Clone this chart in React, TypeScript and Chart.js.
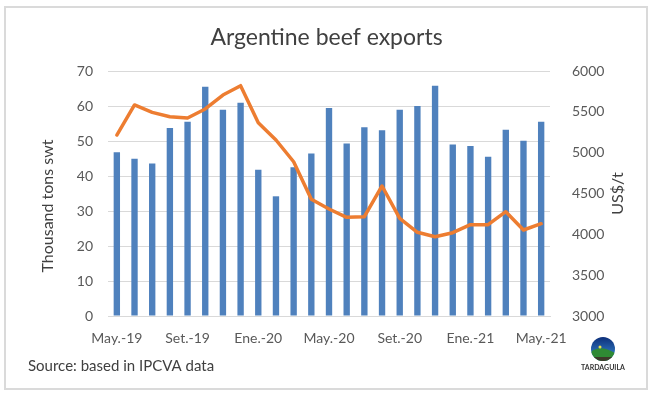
import React, { useEffect, useRef } from "react";
import { Chart, registerables } from "chart.js";

Chart.register(...registerables);

const categories = [
  "May.-19", "Jun.-19", "Jul.-19", "Ago.-19", "Set.-19", "Oct.-19", "Nov.-19", "Dic.-19",
  "Ene.-20", "Feb.-20", "Mar.-20", "Abr.-20", "May.-20", "Jun.-20", "Jul.-20", "Ago.-20",
  "Set.-20", "Oct.-20", "Nov.-20", "Dic.-20", "Ene.-21", "Feb.-21", "Mar.-21", "Abr.-21",
  "May.-21",
];

// Thousand tons swt (left axis)
const exportVolumes = [
  46.8, 44.9, 43.6, 53.7, 55.5, 65.5, 58.9, 60.9, 41.8, 34.2, 42.5, 46.4, 59.4,
  49.3, 53.9, 53.1, 58.9, 60.0, 65.8, 49.0, 48.6, 45.5, 53.2, 50.1, 55.5,
];

// US$/t (right axis)
const exportPrices = [
  5216, 5584, 5494, 5440, 5424, 5535, 5706, 5820, 5367, 5155, 4889, 4429, 4310,
  4208, 4216, 4592, 4196, 4025, 3971, 4020, 4118, 4118, 4277, 4053, 4130,
];

const titleText = "Argentine beef exports";
const leftAxisTitle = "Thousand tons swt";
const rightAxisTitle = "US$/t";
const sourceText = "Source: based in IPCVA data";
const logoText = "TARDAGUILA";

const FONT = "Lato, 'Noto Sans', sans-serif";
const TICK_COLOR = "#595959";
const GRID_COLOR = "#D9D9D9";

const decorPlugin = {
  id: "decor",
  beforeDraw(chart: any) {
    const ctx = chart.ctx;
    ctx.save();
    ctx.fillStyle = "#ffffff";
    ctx.fillRect(0, 0, chart.width, chart.height);
    ctx.restore();
  },
  afterDraw(chart: any) {
    const ctx = chart.ctx;
    const area = chart.chartArea;
    ctx.save();
    // outer frame
    ctx.strokeStyle = "#DADADA";
    ctx.lineWidth = 2;
    ctx.strokeRect(5, 7, 642, 382);

    // left axis title
    ctx.fillStyle = "#404040";
    ctx.font = `16px ${FONT}`;
    ctx.textAlign = "center";
    ctx.textBaseline = "middle";
    ctx.save();
    ctx.translate(48, 206);
    ctx.rotate(-Math.PI / 2);
    ctx.fillText(leftAxisTitle, 0, 0);
    ctx.restore();

    // right axis title
    ctx.save();
    ctx.translate(618, (area.top + area.bottom) / 2);
    ctx.rotate(-Math.PI / 2);
    ctx.fillText(rightAxisTitle, 0, 0);
    ctx.restore();

    // source
    ctx.textAlign = "left";
    ctx.font = `15px ${FONT}`;
    ctx.fillText(sourceText, 28, 366);

    // logo
    const cx = 603, cy = 349, r = 12;
    ctx.save();
    ctx.beginPath();
    ctx.arc(cx, cy, r, 0, Math.PI * 2);
    ctx.clip();
    const g = ctx.createLinearGradient(0, cy - r, 0, cy + r);
    g.addColorStop(0, "#0d2f7a");
    g.addColorStop(1, "#3a8fd6");
    ctx.fillStyle = g;
    ctx.fillRect(cx - r, cy - r, 2 * r, 2 * r);
    ctx.fillStyle = "#2f8a34";
    ctx.beginPath();
    ctx.moveTo(cx - r, cy + 3);
    ctx.quadraticCurveTo(cx - 3, cy - 5, cx + r, cy + 4);
    ctx.lineTo(cx + r, cy + r);
    ctx.lineTo(cx - r, cy + r);
    ctx.closePath();
    ctx.fill();
    ctx.fillStyle = "#3d3a2a";
    ctx.fillRect(cx - r, cy + 8, 2 * r, 5);
    ctx.fillStyle = "#e8e24a";
    ctx.beginPath();
    ctx.arc(cx - 3, cy - 2, 1.5, 0, Math.PI * 2);
    ctx.fill();
    ctx.restore();
    ctx.fillStyle = "#333333";
    ctx.font = `bold 7px ${FONT}`;
    ctx.textAlign = "center";
    ctx.fillText(logoText, cx, 368);

    ctx.restore();
  },
};

export default function App() {
  const canvasRef = useRef<HTMLCanvasElement | null>(null);

  useEffect(() => {
    const canvas = canvasRef.current;
    if (!canvas) return;
    const chart = new Chart(canvas, {
      type: "bar",
      data: {
        labels: categories,
        datasets: [
          {
            type: "line",
            label: "US$/t",
            data: exportPrices,
            yAxisID: "y1",
            borderColor: "#ED7D31",
            backgroundColor: "#ED7D31",
            borderWidth: 3.5,
            pointRadius: 0,
            tension: 0,
            borderJoinStyle: "round",
            borderCapStyle: "round",
            order: 0,
          } as any,
          {
            type: "bar",
            label: "Thousand tons swt",
            data: exportVolumes,
            yAxisID: "y",
            backgroundColor: "#4F81BD",
            borderWidth: 0,
            barPercentage: 0.36,
            categoryPercentage: 1,
            order: 1,
          },
        ],
      },
      options: {
        responsive: false,
        animation: false,
        devicePixelRatio: 1,
        layout: { padding: { left: 0, right: 0, top: 0, bottom: 0 } },
        plugins: {
          legend: { display: false },
          tooltip: { enabled: false },
          title: {
            display: true,
            text: titleText,
            color: "#404040",
            font: { family: FONT, size: 23, weight: "normal" },
            padding: { top: 24, bottom: 19.4 },
          },
        },
        scales: {
          x: {
            grid: { display: false },
            border: { display: true, color: GRID_COLOR },
            ticks: {
              autoSkip: false,
              maxRotation: 0,
              minRotation: 0,
              padding: 6,
              color: TICK_COLOR,
              font: { family: FONT, size: 14 },
              callback: (_v: any, i: number) => (i % 4 === 0 ? categories[i] : ""),
            },
            afterFit: (s: any) => {
              s.height = 80;
            },
          },
          y: {
            position: "left",
            min: 0,
            max: 70,
            border: { display: false },
            grid: { color: GRID_COLOR, drawTicks: false, lineWidth: 1 },
            ticks: {
              stepSize: 10,
              padding: 15,
              color: TICK_COLOR,
              font: { family: FONT, size: 14 },
              callback: (v: any) => String(v),
            },
            afterFit: (s: any) => {
              s.width = 108;
            },
          },
          y1: {
            position: "right",
            min: 3000,
            max: 6000,
            border: { display: false },
            grid: { display: false, drawOnChartArea: false },
            ticks: {
              stepSize: 500,
              padding: 14,
              color: TICK_COLOR,
              font: { family: FONT, size: 14 },
              callback: (v: any) => String(v),
            },
            afterFit: (s: any) => {
              s.width = 103;
            },
          },
        },
      },
      plugins: [decorPlugin],
    });
    return () => chart.destroy();
  }, []);

  return (
    <div style={{ position: "fixed", left: 0, top: 0, width: 653, height: 396, background: "#fff" }}>
      <canvas ref={canvasRef} width={653} height={396} style={{ width: 653, height: 396, display: "block" }} />
    </div>
  );
}
